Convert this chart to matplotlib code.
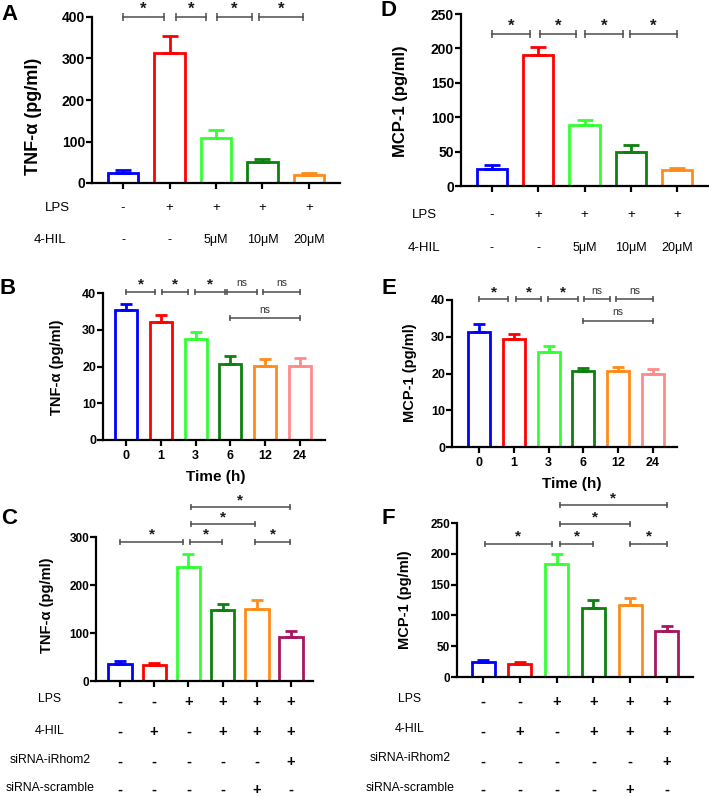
import matplotlib
matplotlib.use("Agg")
import matplotlib.pyplot as plt
import matplotlib.transforms as mtransforms

plt.rcParams['font.family'] = ['Liberation Sans', 'DejaVu Sans']

W, H = 709, 797
DPI = 100

# ---------------- data ----------------
colors5 = ['#0000FF', '#FF0000', '#33FF33', '#0E800E', '#FF8C1A']
colors6_time = ['#0000FF', '#FF0000', '#33FF33', '#0E800E', '#FF8C1A', '#FF8A8A']
colors6_si = ['#0000FF', '#FF0000', '#33FF33', '#0E800E', '#FF8C1A', '#A8155E']

a_means = [25, 314, 109, 51, 19]
a_errs = [7, 40, 19, 7, 5]
d_means = [24.5, 190, 89, 49, 23]
d_errs = [6.5, 12, 7.5, 10.5, 3.5]
ad_lps = ['-', '+', '+', '+', '+']
ad_hil = ['-', '-', '5μM', '10μM', '20μM']

time_labels = ['0', '1', '3', '6', '12', '24']
b_means = [35.4, 32.0, 27.5, 20.8, 20.2, 20.2]
b_errs = [1.6, 1.9, 2.0, 2.1, 1.9, 2.2]
e_means = [31.4, 29.5, 25.9, 20.6, 20.7, 20.0]
e_errs = [2.1, 1.2, 1.6, 0.9, 1.1, 1.3]

c_means = [35, 33, 237, 147, 150, 92]
c_errs = [7, 5, 27, 13, 19, 12]
f_means = [24.4, 21, 184, 111.5, 117, 75]
f_errs = [3.6, 4, 15.7, 13.5, 10.7, 8.3]
cf_rows = ['LPS', '4-HIL', 'siRNA-iRhom2', 'siRNA-scramble']
cf_lps = ['-', '-', '+', '+', '+', '+']
cf_hil = ['-', '+', '-', '+', '+', '+']
cf_irhom = ['-', '-', '-', '-', '-', '+']
cf_scr = ['-', '-', '-', '-', '+', '-']

# brackets: (x1, x2, y, label)
a_br = [(0, 0.88, 400, '*'), (1.13, 1.79, 400, '*'), (2.02, 2.77, 400, '*'), (2.92, 3.87, 400, '*')]
d_br = [(0, 0.83, 221, '*'), (1.03, 1.82, 221, '*'), (2.02, 2.84, 221, '*'), (2.99, 4.0, 221, '*')]
b_br = [(0, 0.84, 40.3, '*'), (1.04, 1.79, 40.3, '*'), (1.98, 2.85, 40.3, '*'),
        (2.9, 3.78, 40.3, 'ns'), (3.94, 5.0, 40.3, 'ns'), (3.0, 5.0, 33.2, 'ns')]
e_br = [(0, 0.84, 40.2, '*'), (1.05, 1.79, 40.2, '*'), (1.99, 2.84, 40.2, '*'),
        (3.01, 3.77, 40.2, 'ns'), (3.93, 5.0, 40.2, 'ns'), (3.0, 5.0, 34.3, 'ns')]
c_br = [(0, 1.85, 290, '*'), (2.04, 2.97, 290, '*'), (3.96, 4.98, 290, '*'),
        (2.07, 3.96, 327, '*'), (2.07, 4.96, 362, '*')]
f_br = [(0.05, 1.87, 216, '*'), (2.09, 2.99, 216, '*'), (4.0, 5.0, 216, '*'),
        (2.09, 4.0, 248, '*'), (2.09, 5.0, 279, '*')]

fig = plt.figure(figsize=(W / DPI, H / DPI), dpi=DPI)


def add_ax(l, t, r, b):
    return fig.add_axes([l / W, 1 - b / H, (r - l) / W, (b - t) / H])


def fy(py):
    return 1 - py / H


def fx(px):
    return px / W


GRAY = '#4d4d4d'


def draw_panel(ax, means, errs, cols, ylim, yticks, xlim, width, capsize, tick_fs, lw=2.0):
    n = len(means)
    xs = list(range(n))
    ax.bar(xs, means, width=width, facecolor='white', edgecolor=cols, linewidth=lw, zorder=2)
    for x, m, e, c in zip(xs, means, errs, cols):
        ax.errorbar([x], [m], yerr=[[0], [e]], fmt='none', ecolor=c, elinewidth=lw,
                    capsize=capsize, capthick=lw, zorder=3)
    ax.set_xlim(*xlim)
    ax.set_ylim(*ylim)
    ax.set_yticks(yticks)
    ax.set_xticks(xs)
    for s in ['top', 'right']:
        ax.spines[s].set_visible(False)
    for s in ['left', 'bottom']:
        ax.spines[s].set_linewidth(1.6)
    ax.tick_params(axis='both', direction='out', length=4, width=1.6)
    ax.tick_params(axis='y', labelsize=tick_fs, pad=1)
    for t in ax.get_yticklabels():
        t.set_fontweight('bold')
    ax.patch.set_alpha(0)


def draw_brackets(ax, brs, star_fs, ns_fs, ms=6):
    for x1, x2, y, lab in brs:
        ax.plot([x1, x2], [y, y], color=GRAY, lw=1.1, marker='|', ms=ms, mew=1.1,
                clip_on=False, zorder=4)
        if lab == '*':
            ax.annotate('*', xy=((x1 + x2) / 2, y), xytext=(0, 0), textcoords='offset points',
                        ha='center', va='bottom', fontsize=star_fs, fontweight='bold',
                        color='#1a1a1a', annotation_clip=False)
        else:
            ax.annotate(lab, xy=((x1 + x2) / 2, y), xytext=(0, 2.5), textcoords='offset points',
                        ha='center', va='bottom', fontsize=ns_fs, color='#333333',
                        annotation_clip=False)


def table_row(ax, py, vals, fs, weight='normal'):
    tr = mtransforms.blended_transform_factory(ax.transData, fig.transFigure)
    for i, v in enumerate(vals):
        ax.text(i, fy(py), v, transform=tr, ha='center', va='center', fontsize=fs,
                fontweight=weight, clip_on=False)


# ---------------- Panel A ----------------
axA = add_ax(92, 17, 340, 183)
draw_panel(axA, a_means, a_errs, colors5, (0, 400), [0, 100, 200, 300, 400], (-0.667, 4.667), 0.65, 5.5, 10)
axA.set_xticklabels([])
draw_brackets(axA, a_br, 12, 8)
fig.text(fx(34), fy(116), 'TNF-α (pg/ml)', rotation=90, ha='center', va='center', fontsize=13, fontweight='bold')
fig.text(fx(57), fy(208), 'LPS', ha='center', va='center', fontsize=9.5)
fig.text(fx(50), fy(240), '4-HIL', ha='center', va='center', fontsize=9.5)
table_row(axA, 208, ad_lps, 9.5)
table_row(axA, 240, ad_hil, 9)
fig.text(fx(10), fy(15), 'A', ha='center', va='center', fontsize=16, fontweight='bold')

# ---------------- Panel D ----------------
axD = add_ax(461, 14, 708, 186)
draw_panel(axD, d_means, d_errs, colors5, (0, 250), [0, 50, 100, 150, 200, 250], (-0.67, 4.67), 0.65, 5.5, 10)
axD.set_xticklabels([])
draw_brackets(axD, d_br, 12, 8)
fig.text(fx(401), fy(101), 'MCP-1 (pg/ml)', rotation=90, ha='center', va='center', fontsize=12, fontweight='bold')
fig.text(fx(424), fy(215), 'LPS', ha='center', va='center', fontsize=9.5)
fig.text(fx(424), fy(248), '4-HIL', ha='center', va='center', fontsize=9.5)
table_row(axD, 215, ad_lps, 9.5)
table_row(axD, 248, ad_hil, 9)
fig.text(fx(389), fy(10), 'D', ha='center', va='center', fontsize=16, fontweight='bold')

# ---------------- Panel B ----------------
axB = add_ax(103, 293, 325, 440)
draw_panel(axB, b_means, b_errs, colors6_time, (0, 40), [0, 10, 20, 30, 40], (-0.66, 5.72), 0.63, 4, 9)
axB.set_xticklabels(time_labels, fontsize=9, fontweight='bold')
draw_brackets(axB, b_br, 11, 7.5, ms=5)
fig.text(fx((103 + 325) / 2 + 2), fy(477), 'Time (h)', ha='center', va='center', fontsize=11, fontweight='bold')
fig.text(fx(57), fy(367), 'TNF-α (pg/ml)', rotation=90, ha='center', va='center', fontsize=10.5, fontweight='bold')
fig.text(fx(8), fy(288), 'B', ha='center', va='center', fontsize=16, fontweight='bold')

# ---------------- Panel E ----------------
axE = add_ax(452, 300, 677, 447)
draw_panel(axE, e_means, e_errs, colors6_time, (0, 40), [0, 10, 20, 30, 40], (-0.78, 5.69), 0.63, 4, 9)
axE.set_xticklabels(time_labels, fontsize=9, fontweight='bold')
draw_brackets(axE, e_br, 11, 7.5, ms=5)
fig.text(fx(572), fy(484), 'Time (h)', ha='center', va='center', fontsize=11, fontweight='bold')
fig.text(fx(410), fy(373), 'MCP-1 (pg/ml)', rotation=90, ha='center', va='center', fontsize=10.5, fontweight='bold')
fig.text(fx(389), fy(288), 'E', ha='center', va='center', fontsize=16, fontweight='bold')

# ---------------- Panel C ----------------
axC = add_ax(96, 537, 313, 681)
draw_panel(axC, c_means, c_errs, colors6_si, (0, 300), [0, 100, 200, 300], (-0.70, 5.64), 0.68, 4, 8.5)
axC.set_xticklabels([])
draw_brackets(axC, c_br, 11, 7.5, ms=5)
fig.text(fx(47), fy(605), 'TNF-α (pg/ml)', rotation=90, ha='center', va='center', fontsize=10.5, fontweight='bold')
for lab, py, spy, vals in zip(cf_rows, [699, 731, 760, 788], [702, 732, 762, 790],
                              [cf_lps, cf_hil, cf_irhom, cf_scr]):
    fig.text(fx(50), fy(py), lab, ha='center', va='center', fontsize=8.8)
    table_row(axC, spy, vals, 10.5, 'bold')
fig.text(fx(9), fy(518), 'C', ha='center', va='center', fontsize=16, fontweight='bold')

# ---------------- Panel F ----------------
axF = add_ax(457, 523, 693, 677)
draw_panel(axF, f_means, f_errs, colors6_si, (0, 250), [0, 50, 100, 150, 200, 250], (-0.71, 5.71), 0.63, 4, 8.5)
axF.set_xticklabels([])
draw_brackets(axF, f_br, 11, 7.5, ms=5)
fig.text(fx(405), fy(600), 'MCP-1 (pg/ml)', rotation=90, ha='center', va='center', fontsize=10.5, fontweight='bold')
for lab, py, spy, vals in zip(cf_rows, [699, 729, 758, 788], [702, 732, 762, 790],
                              [cf_lps, cf_hil, cf_irhom, cf_scr]):
    fig.text(fx(410), fy(py), lab, ha='center', va='center', fontsize=8.8)
    table_row(axF, spy, vals, 10.5, 'bold')
fig.text(fx(388), fy(519), 'F', ha='center', va='center', fontsize=16, fontweight='bold')

fig.savefig('out.png', dpi=DPI)
